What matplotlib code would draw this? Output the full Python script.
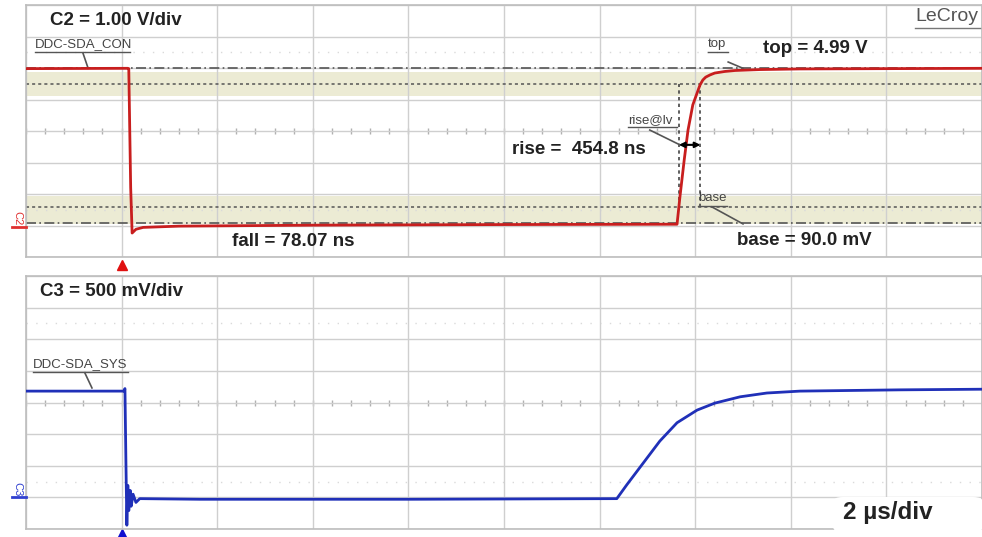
import numpy as np
import matplotlib.pyplot as plt
from matplotlib.patches import FancyBboxPatch
from matplotlib.transforms import blended_transform_factory

plt.rcParams['font.family'] = ['Liberation Sans', 'DejaVu Sans']

# time base: 2 us/div, 10 divisions, trigger one division from the left
t_min, t_max = -2.0, 18.0

# C2 = DDC-SDA_CON, 1.00 V/div (us / V)
c2_t = [-2.0, 0.13, 0.15, 0.19, 0.22, 0.30, 0.45, 1.2, 4.0, 8.0, 11.62,
        11.68, 11.77, 11.85, 11.95, 12.10, 12.16, 12.22, 12.31, 12.41, 12.62,
        12.83, 13.35, 14.19, 18.0]
c2_v = [4.98, 4.99, 4.98, 1.20, -0.24, -0.12, -0.06, -0.02, 0.01, 0.03, 0.04,
        0.90, 2.08, 3.03, 3.83, 4.46, 4.62, 4.71, 4.78, 4.84, 4.89,
        4.92, 4.95, 4.97, 4.99]
c2_top = 4.99
c2_base = 0.090
c2_rise = [11.66, 12.11]       # 10% and 90% crossings (454.8 ns)
c2_lvl = [0.58, 4.50]          # 10% / 90% levels
c2_bands = [(0.05, 0.93), (4.10, 4.88)]

# C3 = DDC-SDA_SYS, 500 mV/div
c3_t = [-2.0, 0.05, 0.07, 0.09, 0.11, 0.13, 0.15, 0.18, 0.20, 0.24, 0.30,
        0.38, 1.64, 6.0, 10.36, 10.57, 10.91, 11.26, 11.62, 12.04, 12.41,
        12.94, 13.50, 14.19, 16.28, 18.0]
c3_v = [1.68, 1.68, 1.72, 0.58, -0.44, 0.19, -0.21, 0.11, -0.14, 0.05, -0.08,
        -0.02, -0.03, -0.03, -0.02, 0.20, 0.54, 0.89, 1.18, 1.38, 1.49,
        1.59, 1.65, 1.68, 1.70, 1.71]

grid_c = '#cfcfcf'
txt_c = '#222222'
red = '#c81e1e'
blue = '#2030b8'

fig = plt.figure(figsize=(9.82, 5.37), dpi=100)
ax1 = fig.add_axes([26/982, 1-257/537, 956/982, 252/537])
ax2 = fig.add_axes([26/982, 1-529/537, 956/982, 253/537])


def scope_grid(ax, ylo, vdiv):
    yhi = ylo + 8*vdiv
    ax.set_xlim(t_min, t_max)
    ax.set_ylim(ylo, yhi)
    ax.set_xticks(np.linspace(t_min, t_max, 11))
    ax.set_yticks(np.linspace(ylo, yhi, 9))
    ax.tick_params(length=0, labelbottom=False, labelleft=False)
    ax.grid(True, color=grid_c, lw=1.0)
    for s in ax.spines.values():
        s.set_color('#bdbdbd')
        s.set_linewidth(1.2)
    mid = ylo + 4*vdiv
    minor = np.arange(t_min, t_max + 0.01, 0.4)
    ax.plot(minor, np.full(len(minor), mid), '|', ms=4, color='#b0b0b0', zorder=1)
    for off in (-2.5, 2.5):
        ax.axhline(mid + off*vdiv, color='#dadada', lw=1, ls=(0, (1, 6)), zorder=1)
    return mid


# ---- top panel, C2
scope_grid(ax1, -1.0, 1.0)
for lo, hi in c2_bands:
    ax1.axhspan(lo, hi, color='#ecebd4', zorder=0.5, lw=0)
for lv in c2_lvl:
    ax1.axhline(lv, color='#555555', lw=1.1, ls=(0, (2, 2)), zorder=2)
ax1.axhline(c2_top, color='#555555', lw=1.2, ls=(0, (6, 2, 1, 2)), zorder=2)
ax1.axhline(c2_base, color='#555555', lw=1.2, ls=(0, (6, 2, 1, 2)), zorder=2)
for tx in c2_rise:
    ax1.plot([tx, tx], c2_lvl, color='#444444', lw=1.2, ls=(0, (2, 2)), zorder=2)
ax1.plot(c2_t, c2_v, color=red, lw=2.0, zorder=3)
ax1.annotate('', xy=(c2_rise[1], 2.56), xytext=(c2_rise[0], 2.56),
             arrowprops=dict(arrowstyle='<|-|>', color='black', lw=1.5,
                             mutation_scale=8, shrinkA=0, shrinkB=0), zorder=4)

bold = dict(fontsize=13.5, fontweight='bold', color=txt_c, va='center')
ax1.text(-1.5, 6.52, 'C2 = 1.00 V/div', ha='left', **bold)
ax1.text(2.31, -0.52, 'fall = 78.07 ns', ha='left', **bold)
ax1.text(8.17, 2.40, 'rise =  454.8 ns', ha='left', **bold)
ax1.text(13.42, 5.63, 'top = 4.99 V', ha='left', **bold)
ax1.text(12.87, -0.49, 'base = 90.0 mV', ha='left', **bold)
ax1.text(16.60, 6.62, 'LeCroy', ha='left', va='center', fontsize=14, color='#555555')
ax1.plot([16.60, 18.0], [6.28, 6.28], color='#777777', lw=1)


def tag(ax, x, y, s, x1, x2, uy, leader):
    ax.text(x, y, s, fontsize=9.5, color='#444444', ha='left', va='center')
    ax.plot([x1, x2], [uy, uy], color='#555555', lw=1)
    ax.plot(leader[0], leader[1], color='#555555', lw=1.2)


tag(ax1, -1.81, 5.75, 'DDC-SDA_CON', -1.81, 0.18, 5.50, ([-0.81, -0.70], [5.48, 4.99]))
tag(ax1, 12.27, 5.75, 'top', 12.27, 12.69, 5.50, ([12.69, 13.0], [5.19, 4.99]))
tag(ax1, 10.59, 3.35, 'rise@lv', 10.59, 11.62, 3.13, ([11.05, 11.68], [3.03, 2.56]))
tag(ax1, 12.06, 0.87, 'base', 12.06, 12.67, 0.62, ([12.35, 13.0], [0.59, 0.05]))

tr1 = blended_transform_factory(ax1.transData, ax1.transAxes)
ax1.plot([0], [-0.033], marker='^', ms=7, color='#e01010', transform=tr1, clip_on=False)

# ---- bottom panel, C3
scope_grid(ax2, -0.5, 0.5)
ax2.plot(c3_t, c3_v, color=blue, lw=2.0, zorder=3)
ax2.text(-1.71, 3.25, 'C3 = 500 mV/div', ha='left', **bold)
tag(ax2, -1.85, 2.10, 'DDC-SDA_SYS', -1.85, 0.13, 1.99, ([-0.77, -0.62], [1.97, 1.73]))

box = FancyBboxPatch((833/982, 1-532/537), 150/982, 35/537,
                     boxstyle='round,pad=0,rounding_size=0.01',
                     transform=fig.transFigure, fc='white', ec='none', zorder=5)
fig.add_artist(box)
fig.text(843/982, 1-513/537, '2 \u00b5s/div', fontsize=17.5, fontweight='bold',
         color=txt_c, ha='left', va='center', zorder=6)

tr2 = blended_transform_factory(ax2.transData, ax2.transAxes)
ax2.plot([0], [-0.018], marker='^', ms=7, color='#1010d0', transform=tr2, clip_on=False)

# channel ground markers at the left
fig.text(17/982, 1-218/537, 'C2', rotation=270, fontsize=8, color='#e03030',
         ha='center', va='center')
fig.add_artist(plt.Line2D([12/982, 26/982], [1-227/537, 1-227/537],
                          transform=fig.transFigure, color='#e03030', lw=2))
fig.text(17/982, 1-489/537, 'C3', rotation=270, fontsize=8, color='#3040d0',
         ha='center', va='center')
fig.add_artist(plt.Line2D([12/982, 26/982], [1-497/537, 1-497/537],
                          transform=fig.transFigure, color='#3040d0', lw=2))

fig.savefig('out.png', dpi=100)
